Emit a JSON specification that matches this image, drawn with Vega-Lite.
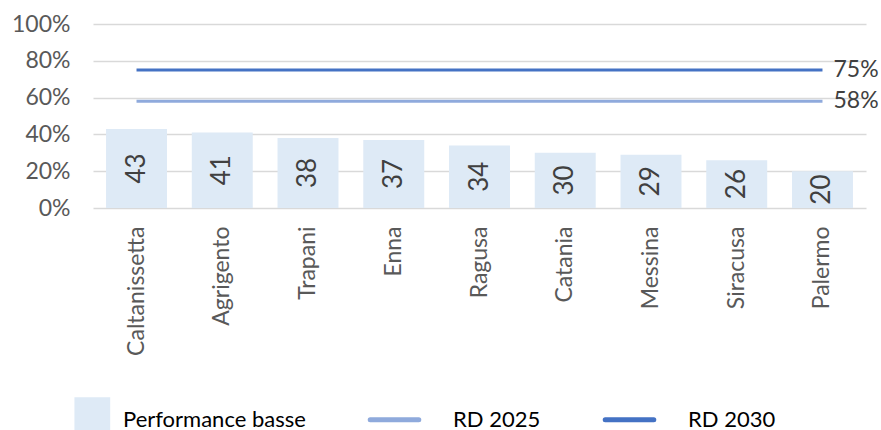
{
  "$schema": "https://vega.github.io/schema/vega-lite/v6.json",
  "width": 773,
  "height": 184,
  "autosize": "none",
  "padding": {"left": 93, "top": 24, "right": 15, "bottom": 222},
  "config": {"view": {"stroke": null}, "font": "Lato", "axis": {"labelOverlap": false}, "axisY": {"labelOverlap": false, "tickCount": 6}},
  "datasets": {
    "bars": [
      {"city": "Caltanissetta", "v": 43, "series": "Performance basse"},
      {"city": "Agrigento", "v": 41, "series": "Performance basse"},
      {"city": "Trapani", "v": 38, "series": "Performance basse"},
      {"city": "Enna", "v": 37, "series": "Performance basse"},
      {"city": "Ragusa", "v": 34, "series": "Performance basse"},
      {"city": "Catania", "v": 30, "series": "Performance basse"},
      {"city": "Messina", "v": 29, "series": "Performance basse"},
      {"city": "Siracusa", "v": 26, "series": "Performance basse"},
      {"city": "Palermo", "v": 20, "series": "Performance basse"}
    ],
    "targets": [
      {"series": "RD 2025", "v": 58, "from": "Caltanissetta", "to": "Palermo", "lab": "58%"},
      {"series": "RD 2030", "v": 75, "from": "Caltanissetta", "to": "Palermo", "lab": "75%"}
    ]
  },
  "resolve": {"scale": {"y": "independent"}, "axis": {"y": "independent"}},
  "layer": [
    {
      "layer": [
        {
          "data": {"name": "bars"},
          "mark": {"type": "bar"},
          "encoding": {
            "x": {
              "field": "city", "type": "nominal", "sort": null,
              "scale": {"domain": ["Caltanissetta", "Agrigento", "Trapani", "Enna", "Ragusa", "Catania", "Messina", "Siracusa", "Palermo"], "paddingInner": 0.289, "paddingOuter": 0.152},
              "axis": {"title": null, "labelAngle": 270, "labelAlign": "right", "labelBaseline": "middle", "labelFontSize": 23, "labelColor": "#595959", "labelPadding": 18, "ticks": false, "domain": false, "labelFont": "Lato"}
            },
            "y": {
              "field": "v", "type": "quantitative",
              "scale": {"domain": [0, 100], "nice": false},
              "axis": {"title": null, "values": [0, 20, 40, 60, 80, 100], "labelExpr": "datum.value + '%'", "labelOverlap": false, "labelFontSize": 23, "labelColor": "#595959", "labelPadding": 23, "ticks": false, "domain": false, "gridColor": "#d9d9d9", "gridWidth": 1.5, "labelFont": "Lato"}
            },
            "color": {
              "field": "series", "type": "nominal",
              "scale": {"domain": ["Performance basse", "RD 2025", "RD 2030"], "range": ["#deeaf6", "#8faadc", "#4472c4"]},
              "legend": {
                "title": null, "orient": "none", "direction": "horizontal", "legendX": -58, "legendY": 366,
                "symbolSize": 2916, "labelOffset": 29, "columnPadding": 54,
                "labelFontSize": 22, "labelColor": "#000000", "labelFont": "Lato", "labelLimit": 0,
                "encode": {
                  "symbols": {
                    "update": {
                      "shape": {"signal": "datum.value === 'Performance basse' ? 'M0.46,-0.81M0.46,-0.74H1.6V0.81H0.46Z' : 'M-0.9,-0.81M-0.9,0.81M-0.9,0H0.9'"},
                      "fill": {"signal": "datum.value === 'Performance basse' ? '#d9e2f3' : 'transparent'"},
                      "stroke": {"signal": "datum.value === 'RD 2025' ? '#8faadc' : (datum.value === 'RD 2030' ? '#4472c4' : 'transparent')"},
                      "strokeWidth": {"value": 5},
                      "strokeCap": {"value": "round"},
                      "size": {"value": 2916},
                      "opacity": {"value": 1}
                    }
                  }
                }
              }
            }
          }
        },
        {
          "data": {"name": "targets"},
          "mark": {"type": "rule", "strokeWidth": 3},
          "encoding": {
            "x": {"field": "from", "type": "nominal"},
            "x2": {"field": "to"},
            "y": {"field": "v", "type": "quantitative"},
            "color": {"field": "series", "type": "nominal"}
          }
        },
        {
          "data": {"name": "targets"},
          "mark": {"type": "text", "align": "left", "dx": 11, "fontSize": 23, "color": "#404040", "font": "Lato"},
          "encoding": {
            "x": {"field": "to", "type": "nominal"},
            "y": {"field": "v", "type": "quantitative"},
            "text": {"field": "lab"}
          }
        }
      ]
    },
    {
      "data": {"name": "bars"},
      "mark": {"type": "text", "angle": 270, "fontSize": 26, "color": "#404040", "font": "Lato"},
      "encoding": {
        "x": {"field": "city", "type": "nominal"},
        "y": {"field": "v", "type": "quantitative", "scale": {"domain": [0, 200], "nice": false}, "axis": null},
        "text": {"field": "v", "type": "quantitative"}
      }
    }
  ]
}
